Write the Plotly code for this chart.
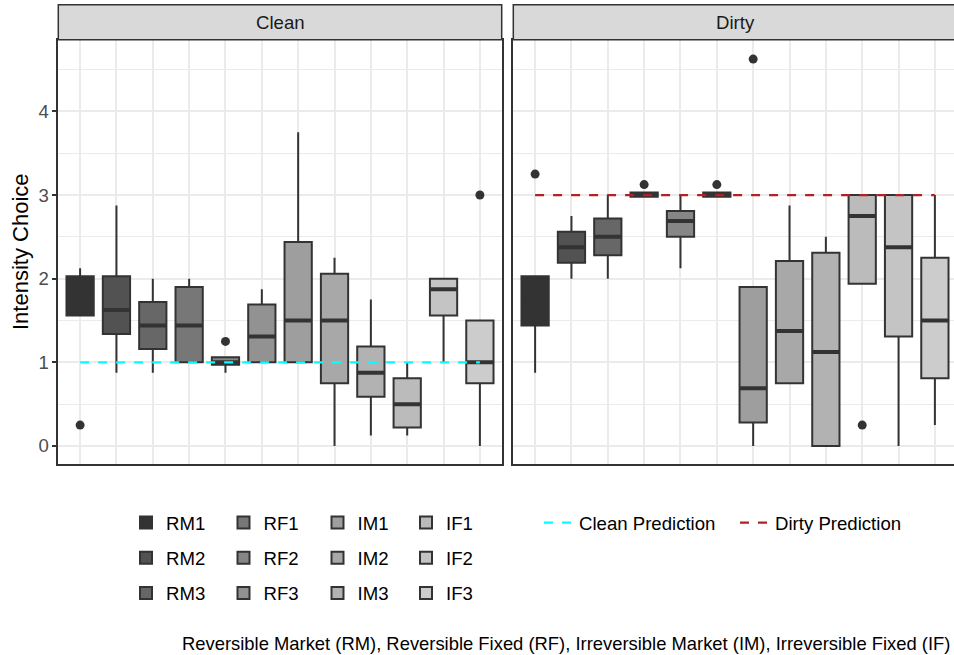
import plotly.graph_objects as go

# ---------------- data ----------------
categories = ["RM1", "RM2", "RM3", "RF1", "RF2", "RF3",
              "IM1", "IM2", "IM3", "IF1", "IF2", "IF3"]

clean_q1 = [1.56, 1.34, 1.16, 1.00, 0.97, 1.00, 1.00, 0.75, 0.59, 0.22, 1.56, 0.75]
clean_median = [1.875, 1.625, 1.44, 1.44, 1.00, 1.31, 1.50, 1.50, 0.875, 0.50, 1.875, 1.00]
clean_q3 = [2.03, 2.03, 1.72, 1.90, 1.06, 1.69, 2.44, 2.06, 1.19, 0.81, 2.00, 1.50]
clean_lower = [1.56, 0.875, 0.875, 1.00, 0.875, 1.00, 1.00, 0.00, 0.125, 0.125, 1.00, 0.00]
clean_upper = [2.125, 2.875, 2.00, 2.00, 1.06, 1.875, 3.75, 2.25, 1.75, 1.00, 2.00, 1.50]
clean_outlier_cat = ["RM1", "RF2", "IF3"]
clean_outlier_val = [0.25, 1.25, 3.00]

dirty_q1 = [1.44, 2.19, 2.28, 2.98, 2.50, 2.98, 0.28, 0.75, 0.00, 1.94, 1.31, 0.81]
dirty_median = [1.75, 2.375, 2.50, 3.00, 2.69, 3.00, 0.69, 1.375, 1.125, 2.75, 2.375, 1.50]
dirty_q3 = [2.03, 2.56, 2.72, 3.03, 2.81, 3.03, 1.90, 2.21, 2.31, 3.00, 3.00, 2.25]
dirty_lower = [0.875, 2.00, 2.00, 2.98, 2.125, 2.98, 0.00, 0.75, 0.00, 1.94, 0.00, 0.25]
dirty_upper = [2.03, 2.75, 3.00, 3.03, 3.00, 3.03, 1.90, 2.875, 2.50, 3.00, 3.00, 3.00]
dirty_outlier_cat = ["RM1", "RF1", "RF3", "IM1", "IF1"]
dirty_outlier_val = [3.25, 3.125, 3.125, 4.625, 0.25]

clean_prediction = 1.0
dirty_prediction = 3.0

y_ticks = [0, 1, 2, 3, 4]
panel_titles = ["Clean", "Dirty"]
caption = ("Reversible Market (RM), Reversible Fixed (RF), "
           "Irreversible Market (IM), Irreversible Fixed (IF)")

# ---------------- style ----------------
fill_colors = ["#333333", "#525252", "#676767", "#777777", "#868686", "#929292",
               "#9E9E9E", "#A8A8A8", "#B2B2B2", "#BBBBBB", "#C4C4C4", "#CCCCCC"]
LINE = "#333333"
GRID = "#EBEBEB"
FONT = "Liberation Sans, Arial, sans-serif"
FS = 18.6
W, H = 954, 655
BOX_W = 0.75


def px(x):
    return x / W


def py(y):
    return 1 - y / H


# panel geometry (pixels)
L_X0, L_X1 = 58.3, 501.7
R_X0 = 513.3
P_Y0, P_Y1 = 39.7, 464.3
UNIT_X = (L_X1 - L_X0) / 12.2
right_range_end = -0.6 + (W - R_X0) / UNIT_X

legend_of = {"RM": "legend", "RF": "legend2", "IM": "legend3", "IF": "legend4"}

fig = go.Figure()

panels = [
    dict(q1=clean_q1, med=clean_median, q3=clean_q3, lo=clean_lower, hi=clean_upper,
         oc=clean_outlier_cat, ov=clean_outlier_val, pred=clean_prediction,
         pcol="#00FFFF", pname="Clean Prediction", xa="x", ya="y"),
    dict(q1=dirty_q1, med=dirty_median, q3=dirty_q3, lo=dirty_lower, hi=dirty_upper,
         oc=dirty_outlier_cat, ov=dirty_outlier_val, pred=dirty_prediction,
         pcol="#B22222", pname="Dirty Prediction", xa="x2", ya="y2"),
]

for p_idx, p in enumerate(panels):
    for i, cat in enumerate(categories):
        fig.add_trace(go.Box(
            x=[i], q1=[p["q1"][i]], median=[p["med"][i]], q3=[p["q3"][i]],
            lowerfence=[p["lo"][i]], upperfence=[p["hi"][i]],
            width=BOX_W, whiskerwidth=0, boxpoints=False,
            fillcolor=fill_colors[i], line=dict(color=LINE, width=2),
            name=cat, legendgroup=cat, showlegend=(p_idx == 0),
            legend=legend_of[cat[:2]],
            xaxis=p["xa"], yaxis=p["ya"], hoverinfo="skip",
        ))
    # thick median bars
    for i, cat in enumerate(categories):
        fig.add_trace(go.Scatter(
            x=[i - BOX_W / 2, i + BOX_W / 2], y=[p["med"][i], p["med"][i]],
            mode="lines", line=dict(color=LINE, width=4),
            showlegend=False, hoverinfo="skip", xaxis=p["xa"], yaxis=p["ya"],
        ))
    # prediction line
    fig.add_trace(go.Scatter(
        x=list(range(len(categories))), y=[p["pred"]] * len(categories),
        mode="lines", line=dict(color=p["pcol"], width=2.2, dash="9px,9px"),
        name=p["pname"], legend="legend5", showlegend=True,
        hoverinfo="skip", xaxis=p["xa"], yaxis=p["ya"],
    ))
    # outliers
    fig.add_trace(go.Scatter(
        x=[categories.index(c) for c in p["oc"]], y=p["ov"],
        mode="markers", marker=dict(color=LINE, size=9),
        showlegend=False, hoverinfo="skip", xaxis=p["xa"], yaxis=p["ya"],
    ))

xaxis_common = dict(
    showticklabels=False, ticks="", tickvals=list(range(len(categories))),
    showgrid=True, gridcolor=GRID, gridwidth=1.6, zeroline=False,
    showline=True, linecolor=LINE, linewidth=1.5, mirror=True,
)
yaxis_common = dict(
    range=[-0.219, 4.857], tickvals=y_ticks, showgrid=True, gridcolor=GRID,
    gridwidth=1.6, zeroline=False, showline=True, linecolor=LINE, linewidth=1.5,
    minor=dict(dtick=0.5, showgrid=True, gridcolor=GRID, gridwidth=0.9),
    domain=[py(P_Y1), py(P_Y0)],
)

legend_common = dict(
    font=dict(family=FONT, size=FS, color="#000000"),
    bgcolor="rgba(0,0,0,0)", orientation="v", tracegroupgap=8.0,
    xanchor="left", yanchor="top", y=py(504),
)

fig.update_layout(
    width=W, height=H, autosize=False,
    margin=dict(l=0, r=0, t=0, b=0),
    paper_bgcolor="white", plot_bgcolor="white",
    font=dict(family=FONT, size=FS, color="#000000"),
    xaxis=dict(xaxis_common, domain=[px(L_X0), px(L_X1)], range=[-0.6, 11.6]),
    xaxis2=dict(xaxis_common, domain=[px(R_X0), 1.0], range=[-0.6, right_range_end]),
    yaxis=dict(yaxis_common, mirror=True, ticks="outside", ticklen=5, tickwidth=1.5,
               tickcolor=LINE, ticklabelstandoff=-1,
               tickfont=dict(family=FONT, size=FS, color="#4D4D4D")),
    yaxis2=dict(yaxis_common, matches="y", showticklabels=False, ticks="",
                anchor="x2", mirror=False),
    legend=dict(legend_common, x=px(126)),
    legend2=dict(legend_common, x=px(223.5)),
    legend3=dict(legend_common, x=px(317.5)),
    legend4=dict(legend_common, x=px(406)),
    legend5=dict(font=dict(family=FONT, size=FS, color="#000000"),
                 bgcolor="rgba(0,0,0,0)", orientation="h", entrywidth=151,
                 xanchor="left", yanchor="top", x=px(539), y=py(504)),
    showlegend=True,
)
fig.update_layout(xaxis2=dict(anchor="y2"))

# facet strips
strip_spans = [(L_X0, L_X1), (R_X0, W + 6)]
for (x0, x1), title in zip(strip_spans, panel_titles):
    fig.add_shape(type="rect", xref="paper", yref="paper",
                  x0=px(x0), x1=px(x1), y0=py(P_Y0), y1=py(4.7),
                  fillcolor="#D9D9D9", line=dict(color=LINE, width=1.5))
    fig.add_annotation(text=title, xref="paper", yref="paper",
                       x=px((x0 + (x1 if x1 < W else R_X0 + (L_X1 - L_X0))) / 2),
                       y=py(22.2), showarrow=False, xanchor="center", yanchor="middle",
                       font=dict(family=FONT, size=FS, color="#1A1A1A"))

# axis title
fig.add_annotation(text="Intensity Choice", xref="paper", yref="paper",
                   x=px(20), y=py((P_Y0 + P_Y1) / 2), textangle=-90, showarrow=False,
                   xanchor="center", yanchor="middle",
                   font=dict(family=FONT, size=22, color="#000000"))

# caption (kept fully inside the page)
fig.add_annotation(text=caption, xref="paper", yref="paper",
                   x=px(952), y=py(643), showarrow=False,
                   xanchor="right", yanchor="middle",
                   font=dict(family=FONT, size=18.4, color="#000000"))

fig.write_html("out.html")
